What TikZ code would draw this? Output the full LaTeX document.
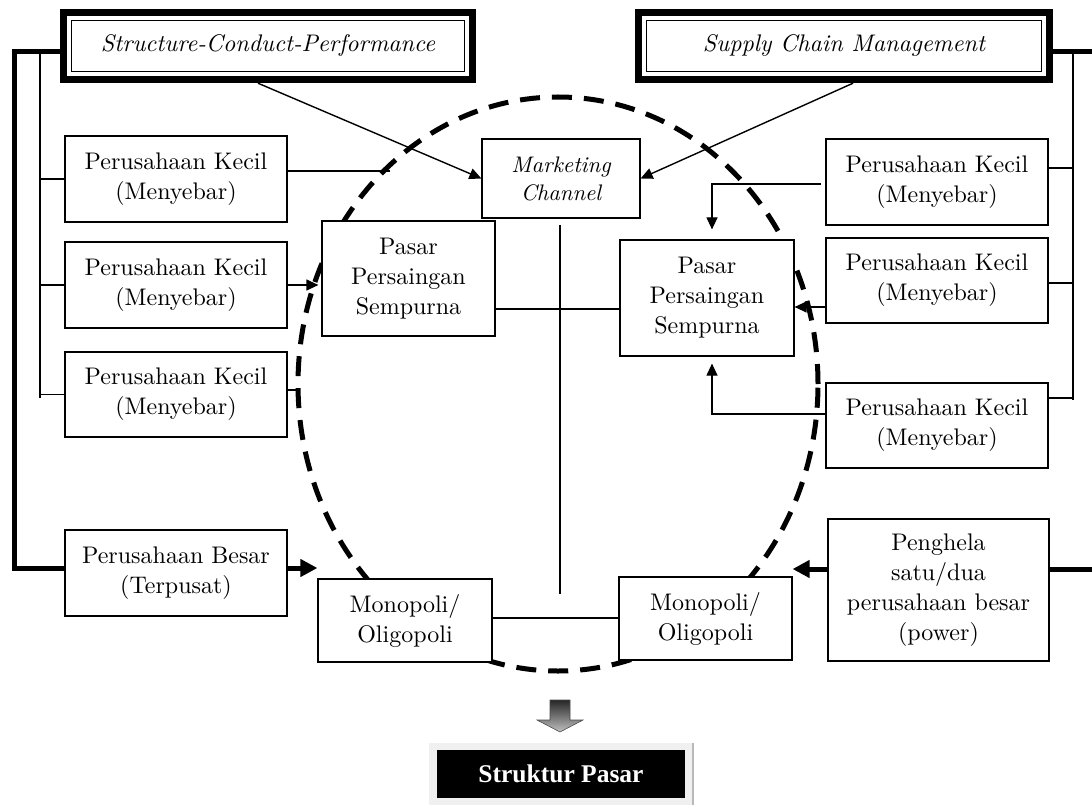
\documentclass[tikz,border=0pt]{standalone}
\usepackage{fontspec}
\setmainfont{lmroman10-regular}[Extension=.otf, ItalicFont=lmroman10-italic, BoldFont=lmroman10-bold]
\newfontfamily\timesfont{Liberation Serif}
\usetikzlibrary{arrows.meta,calc}

\begin{document}
\begin{tikzpicture}[x=1pt,y=-1pt,
  box/.style={draw, line width=1.2pt, fill=white, align=center, inner sep=0pt,
              font=\fontsize{24}{30}\selectfont},
  titlebox/.style={inner sep=0pt, minimum height=74pt, align=center,
                   font=\fontsize{24}{30}\selectfont\itshape},
  link/.style={line width=1.2pt},
  linkarrow/.style={link, -{Triangle[length=12pt,width=11pt]}},
  bus/.style={line width=5pt},
  busarrow/.style={bus, -{Triangle[length=17pt,width=17pt]}},
  halo/.style={line width=5pt, dash pattern=on 20pt off 12pt}
]
\fill[white] (0,0) rectangle (1092,805);
\useasboundingbox (0,0) rectangle (1092,805);

% market structure boundary
\draw[halo] (558,384) ellipse [x radius=260pt, y radius=287pt];

% approach frames at the top
\node[titlebox, minimum width=416pt] (scp) at (268,46) {Structure-Conduct-Performance};
\node[titlebox, minimum width=418pt] (scm) at (844,46) {Supply Chain Management};
\foreach \n in {scp,scm}{
  \draw[line width=7pt] ([shift={(3.5,3.5)}]\n.north west) rectangle ([shift={(-3.5,-3.5)}]\n.south east);
  \draw[line width=0.7pt, double, double distance=2pt] ([shift={(10.5,10.5)}]\n.north west) rectangle ([shift={(-10.5,-10.5)}]\n.south east);
}

% firms on the left
\node[box, minimum width=222pt, minimum height=86pt] (k1) at (176,179) {Perusahaan Kecil\\(Menyebar)};
\node[box, minimum width=222pt, minimum height=86pt] (k2) at (176,285) {Perusahaan Kecil\\(Menyebar)};
\node[box, minimum width=222pt, minimum height=85pt] (k3) at (176,394.5) {Perusahaan Kecil\\(Menyebar)};
\node[box, minimum width=222pt, minimum height=86pt] (besar) at (176,573) {Perusahaan Besar\\(Terpusat)};

% firms on the right
\node[box, minimum width=222pt, minimum height=86pt] (kr1) at (937,182) {Perusahaan Kecil\\(Menyebar)};
\node[box, minimum width=222pt, minimum height=85pt] (kr2) at (937,280.5) {Perusahaan Kecil\\(Menyebar)};
\node[box, minimum width=222pt, minimum height=85pt] (kr3) at (937,425.5) {Perusahaan Kecil\\(Menyebar)};
\node[box, minimum width=221pt, minimum height=142pt] (penghela) at (938.5,590) {Penghela\\satu/dua\\perusahaan besar\\(power)};

% market forms in the centre
\node[box, minimum width=158pt, minimum height=79pt, font=\fontsize{22.5}{28}\selectfont\itshape] (mc) at (561,178.5) {Marketing\\Channel};
\node[box, minimum width=173pt, minimum height=115pt] (lp) at (408.5,278.5) {Pasar\\Persaingan\\Sempurna};
\node[box, minimum width=174pt, minimum height=116pt] (rp) at (707,298) {Pasar\\Persaingan\\Sempurna};
\node[box, minimum width=174pt, minimum height=83pt] (lm) at (405,620.5) {Monopoli/\\Oligopoli};
\node[box, minimum width=173pt, minimum height=83pt] (rm) at (705.5,618.5) {Monopoli/\\Oligopoli};

% helper points
\coordinate (lbus) at (14,52);
\coordinate (lbot) at (14,568);
\coordinate (lv) at (40,53);
\coordinate (lvend) at (40,398);
\coordinate (rbus) at (1073,52);
\coordinate (rvend) at (1073,400);
\coordinate (redge) at (1092,52);
\coordinate (pedge) at (1092,569);
\coordinate (py) at (0,569);
\coordinate (k1end) at (390,171);
\coordinate (k3end) at (300,390);
\coordinate (r2) at (0,307);
\coordinate (r3) at (0,414);
\coordinate (r1) at (0,184);
\coordinate (midy) at (0,309);
\coordinate (vtop) at (560,225);
\coordinate (vbot) at (560,594);
\coordinate (monoy) at (0,618);

% left trunk lines
\draw[bus] (scp.west |- lbus) -- (lbus) -- (lbot) -- (besar.west |- lbot);
\draw[link] (lv) -- (lvend);
\draw[link] (lv |- k1.west) -- (k1.west);
\draw[link] (lv |- k2.west) -- (k2.west);
\draw[link] (lv |- k3.west) -- (k3.west);

% right trunk lines
\draw[bus] (scm.east |- rbus) -- (redge);
\draw[link] (rbus) -- (rvend);
\draw[link] (kr1.east |- 0,168) -- (rbus |- 0,168);
\draw[link] (kr2.east |- 0,283) -- (rbus |- 0,283);
\draw[link] (kr3.east |- 0,398) -- (rbus |- 0,398);

% links from the approaches
\draw[linkarrow, line width=1.4pt] ([xshift=-10pt]scp.south) -- (mc.west);
\draw[linkarrow, line width=1.4pt] ([xshift=9pt]scm.south) -- (mc.east);

% links from the left firms
\draw[link] (k1.east |- k1end) -- (k1end);
\draw[linkarrow, shorten >=3pt] (k2.east) -- (lp.west |- k2.east);
\draw[link] (k3.east |- k3end) -- (k3end);
\draw[busarrow] (besar.east |- lbot) -- (lm.west |- lbot);

% links from the right firms
\draw[linkarrow] ([xshift=-4pt]kr1.west |- r1) -| ([xshift=5pt,yshift=10pt]rp.north);
\draw[linkarrow] (kr2.west |- r2) -- (rp.east |- r2);
\draw[linkarrow] (kr3.west |- r3) -| ([xshift=5pt,yshift=-7pt]rp.south);
\draw[busarrow] (penghela.west |- py) -- (rm.east |- py);
\draw[bus] (penghela.east |- py) -- (pedge);

% central cross
\draw[link] (lp.east |- midy) -- (rp.west |- midy);
\draw[link] (vtop) -- (vbot);
\draw[link] (lm.east |- monoy) -- (rm.west |- monoy);

% result
\shade[top color=black!85, bottom color=gray!50, draw=black!70, line width=0.6pt]
  (550,700) -- (570,700) -- (570,720) -- (583,720) -- (560,732) -- (537,720) -- (550,720) -- cycle;
\fill[gray!12] (429,743) rectangle (693,805);
\draw[gray!55, line width=1.2pt] (693,743) -- (693,805);
\node[fill=black, text=white, minimum width=248pt, minimum height=48pt, inner sep=0pt,
      font=\timesfont\bfseries\fontsize{25.5}{30}\selectfont] (sp) at (561,774) {Struktur Pasar};
\end{tikzpicture}
\end{document}
